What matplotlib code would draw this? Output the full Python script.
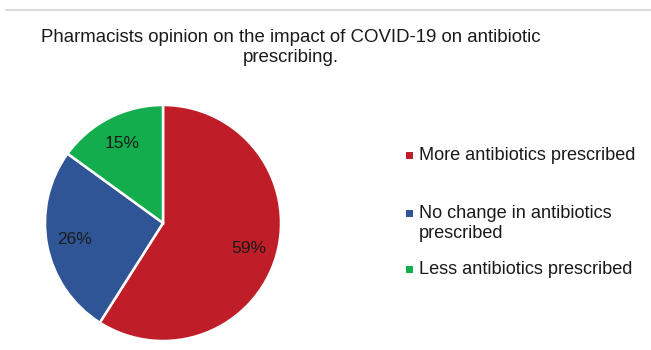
import matplotlib
matplotlib.use("Agg")
import matplotlib.pyplot as plt
from matplotlib.patches import Rectangle
from matplotlib.lines import Line2D

plt.rcParams['font.family'] = ['Liberation Sans', 'DejaVu Sans']

# Survey responses
categories = ["More antibiotics prescribed",
              "No change in antibiotics\nprescribed",
              "Less antibiotics prescribed"]
shares = [59, 26, 15]
colors = ["#BF1E28", "#2F5597", "#13AD4D"]
title = "Pharmacists opinion on the impact of COVID-19 on antibiotic\nprescribing."

W, H = 651, 350
fig = plt.figure(figsize=(W / 100, H / 100), dpi=100)
fig.patch.set_facecolor("white")

# thin rule across the top
fig.add_artist(Line2D([6 / W, 1.0], [1 - 10 / H, 1 - 10 / H],
                      transform=fig.transFigure, color="#d4d4d4", lw=1.2))

fig.text(291 / W, 1 - 47.5 / H, title, ha="center", va="center",
         fontsize=13.4, color="#1a1a1a", linespacing=1.25)

# pie area
cx, cy, r = 163, 223, 118
ax = fig.add_axes([(cx - r) / W, (H - cy - r) / H, 2 * r / W, 2 * r / H])
ax.pie(shares, colors=colors, startangle=90, counterclock=False,
       autopct="%.0f%%", pctdistance=0.76,
       wedgeprops=dict(edgecolor="white", linewidth=1.8),
       textprops=dict(fontsize=12.5, color="#1a1a1a"))
ax.set_xlim(-1.0, 1.0)
ax.set_ylim(-1.0, 1.0)
ax.set_aspect("auto")
ax.axis("off")

# legend entries
entry_y = [155, 213, 269]
for lab, col, y in zip(categories, colors, entry_y):
    fig.add_artist(Rectangle(((409 - 3.5) / W, 1 - (y + 3.5) / H), 7 / W, 7 / H,
                             transform=fig.transFigure, facecolor=col,
                             edgecolor="none"))
    fig.text(419 / W, 1 - (y - 8.5) / H, lab, ha="left", va="top",
             fontsize=13.1, color="#1a1a1a", linespacing=1.3)

fig.savefig("out.png", dpi=100, facecolor="white")
